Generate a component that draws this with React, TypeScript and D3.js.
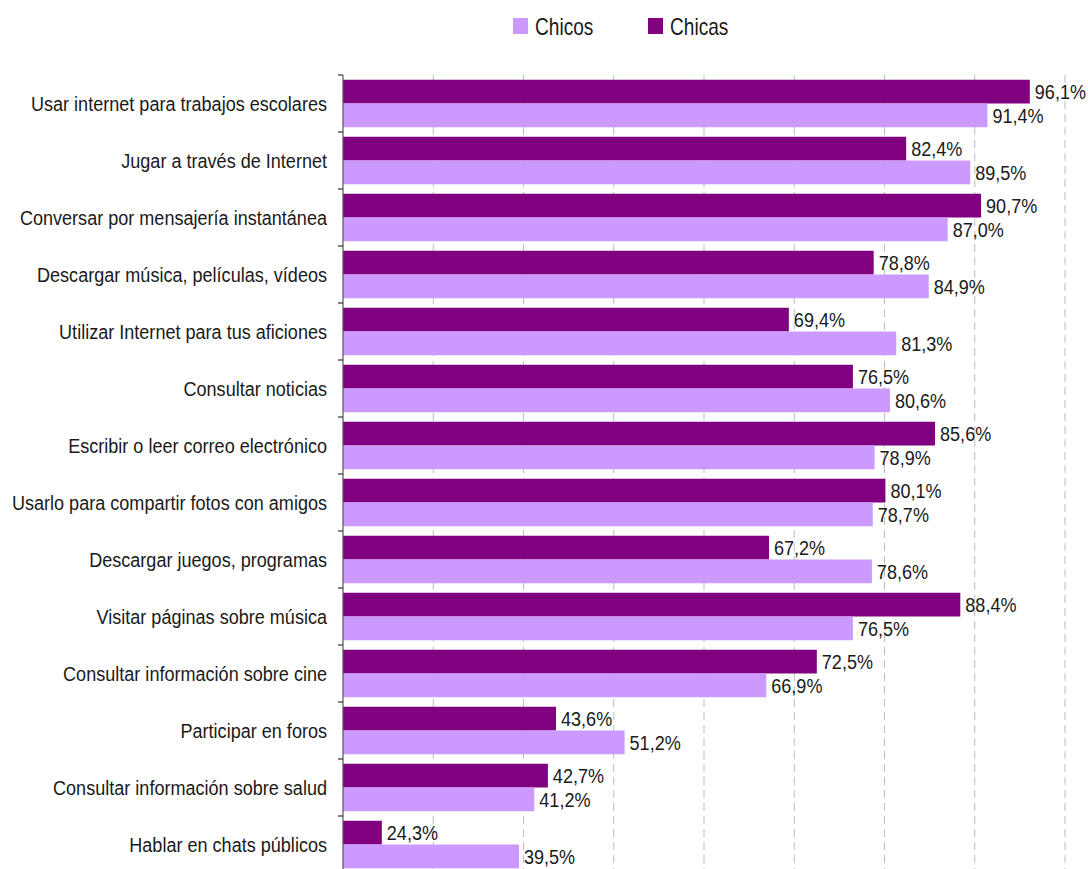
import React from "react";
import * as d3 from "d3";

const categories = [
  "Usar internet para trabajos escolares",
  "Jugar a través de Internet",
  "Conversar por mensajería instantánea",
  "Descargar música, películas, vídeos",
  "Utilizar Internet para tus aficiones",
  "Consultar noticias",
  "Escribir o leer correo electrónico",
  "Usarlo para compartir fotos con amigos",
  "Descargar juegos, programas",
  "Visitar páginas sobre música",
  "Consultar información sobre cine",
  "Participar en foros",
  "Consultar información sobre salud",
  "Hablar en chats públicos",
];
const chicas = [96.1, 82.4, 90.7, 78.8, 69.4, 76.5, 85.6, 80.1, 67.2, 88.4, 72.5, 43.6, 42.7, 24.3];
const chicos = [91.4, 89.5, 87.0, 84.9, 81.3, 80.6, 78.9, 78.7, 78.6, 76.5, 66.9, 51.2, 41.2, 39.5];
const series = ["Chicas", "Chicos"];
const gridTicks = [30, 40, 50, 60, 70, 80, 90, 100];

const W = 1088;
const H = 869;
const FONT = "'Liberation Sans', Arial, sans-serif";
const COLORS: Record<string, string> = { Chicas: "#800080", Chicos: "#CC99FF" };

function Txt(props: { x: number; y: number; size: number; sx: number; anchor?: string; children: React.ReactNode }) {
  return (
    <text
      transform={`translate(${props.x},${props.y}) scale(${props.sx},1)`}
      dy="0.35em"
      fontSize={props.size}
      textAnchor={props.anchor || "start"}
      fill="#1a1a1a"
    >
      {props.children}
    </text>
  );
}

export default function App() {
  const x = d3.scaleLinear().domain([20, 100]).range([343, 1065]);
  const y = d3.scaleBand<string>().domain(categories).range([75, 873]).paddingInner(0).paddingOuter(0);
  const inner = d3.scaleBand<string>().domain(series).range([0, y.bandwidth()]).paddingOuter(0.2).paddingInner(0);
  const fmt = (v: number) => v.toFixed(1).replace(".", ",") + "%";
  const boundaries = categories.map((c) => y(c)!).concat([y.range()[1]]);

  return (
    <svg width={W} height={H} style={{ position: "absolute", left: 0, top: 0, display: "block" }} fontFamily={FONT}>
      <rect width={W} height={H} fill="#fff" />
      {gridTicks.map((t) => (
        <line key={t} x1={x(t)} x2={x(t)} y1={75} y2={H} stroke="#bdbdbd" strokeWidth={1} strokeDasharray="8,5" />
      ))}
      {categories.map((c, i) => {
        const y0 = y(c)!;
        const vals: Record<string, number> = { Chicas: chicas[i], Chicos: chicos[i] };
        return (
          <g key={c}>
            {series.map((s) => {
              const by = y0 + inner(s)!;
              const v = vals[s];
              return (
                <g key={s}>
                  <rect x={x(20)} y={by} width={x(v) - x(20)} height={inner.bandwidth()} fill={COLORS[s]} />
                  <Txt x={x(v) + 5} y={by + inner.bandwidth() / 2} size={21} sx={0.86}>
                    {fmt(v)}
                  </Txt>
                </g>
              );
            })}
            <Txt x={327} y={y0 + y.bandwidth() / 2} size={21} sx={0.86} anchor="end">
              {c}
            </Txt>
          </g>
        );
      })}
      <line x1={343} x2={343} y1={75} y2={H} stroke="#555" strokeWidth={1.2} />
      {boundaries.map((b, i) => (
        <line key={i} x1={338} x2={343} y1={b} y2={b} stroke="#333" strokeWidth={1.2} />
      ))}
      <g>
        <rect x={513} y={18} width={15} height={16} fill={COLORS.Chicos} />
        <Txt x={535} y={27} size={23} sx={0.83}>Chicos</Txt>
        <rect x={648} y={18} width={15} height={16} fill={COLORS.Chicas} />
        <Txt x={670} y={27} size={23} sx={0.83}>Chicas</Txt>
      </g>
    </svg>
  );
}
